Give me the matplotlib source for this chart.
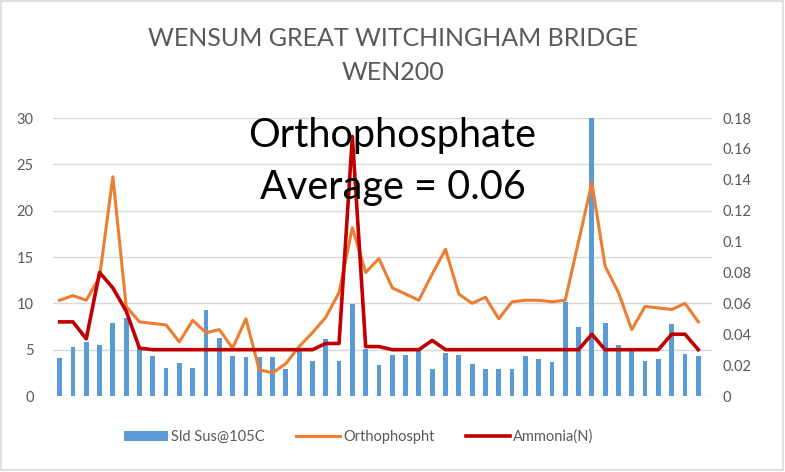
import numpy as np
import matplotlib
matplotlib.use("Agg")
import matplotlib.pyplot as plt
from matplotlib.patches import Rectangle

plt.rcParams['font.family'] = ['Lato', 'DejaVu Sans']

# Sample values (49 samples)
suspended_solids = [
    4.1, 5.3, 5.8, 5.5, 7.9, 8.4, 5.3, 4.3, 3.0, 3.6,
    3.0, 9.3, 6.3, 4.3, 4.2, 4.2, 4.2, 2.9, 4.9, 3.8,
    6.1, 3.8, 9.9, 5.1, 3.3, 4.4, 4.4, 5.2, 2.9, 4.6,
    4.4, 3.5, 2.9, 2.9, 2.9, 4.3, 4.0, 3.7, 10.1, 7.5,
    30.0, 7.9, 5.5, 4.9, 3.8, 4.0, 7.8, 4.5, 4.3
]

orthophosphate = [
    0.062, 0.065, 0.062, 0.077, 0.142, 0.058, 0.048, 0.047, 0.046, 0.035,
    0.049, 0.041, 0.043, 0.031, 0.050, 0.017, 0.015, 0.021, 0.032, 0.041,
    0.051, 0.067, 0.109, 0.080, 0.089, 0.070, 0.066, 0.062, 0.079, 0.095,
    0.066, 0.060, 0.064, 0.050, 0.061, 0.062, 0.062, 0.061, 0.062, 0.100,
    0.138, 0.084, 0.067, 0.043, 0.058, 0.057, 0.056, 0.060, 0.048
]

ammonia = [
    0.048, 0.048, 0.037, 0.080, 0.070, 0.055, 0.031, 0.030, 0.030, 0.030,
    0.030, 0.030, 0.030, 0.030, 0.030, 0.030, 0.030, 0.030, 0.030, 0.030,
    0.034, 0.034, 0.168, 0.032, 0.032, 0.030, 0.030, 0.030, 0.036, 0.030,
    0.030, 0.030, 0.030, 0.030, 0.030, 0.030, 0.030, 0.030, 0.030, 0.030,
    0.040, 0.030, 0.030, 0.030, 0.030, 0.030, 0.040, 0.040, 0.030
]

left_ticks = [0, 5, 10, 15, 20, 25, 30]
right_ticks = [0, 0.02, 0.04, 0.06, 0.08, 0.1, 0.12, 0.14, 0.16, 0.18]

x = np.arange(len(suspended_solids))
grey = "#595959"

fig = plt.figure(figsize=(7.85, 4.72), dpi=100)
ax = fig.add_axes([0.0675, 0.161, 0.839, 0.589])
ax2 = ax.twinx()

# Bars on the left axis
bars = ax.bar(x, suspended_solids, width=0.36, color="#5B9BD5", zorder=2,
              label="Sld Sus@105C")

# Lines on the right axis
l1, = ax2.plot(x, orthophosphate, color="#ED7D31", lw=2.2, label="Orthophospht",
               solid_joinstyle="round")
l2, = ax2.plot(x, ammonia, color="#C00000", lw=2.6, label="Ammonia(N)",
               solid_joinstyle="round")

ax.set_xlim(-0.5, 49.0)
ax.set_ylim(0, 30)
ax2.set_ylim(0, 0.18)
ax.set_yticks(left_ticks)
ax2.set_yticks(right_ticks)
ax2.set_yticklabels(["0" if t == 0 else f"{t:g}" for t in right_ticks])
ax.set_xticks([])

ax.grid(axis="y", color="#D9D9D9", lw=1, zorder=0)
ax.set_axisbelow(True)
for a in (ax, ax2):
    for s in a.spines.values():
        s.set_visible(False)
    a.tick_params(length=0, labelsize=10.5, labelcolor=grey)
ax.tick_params(axis="y", pad=14)
ax2.tick_params(axis="y", pad=8)

# Title and average annotation
fig.text(0.5, 0.883, "WENSUM GREAT WITCHINGHAM BRIDGE\nWEN200", ha="center",
         va="center", fontsize=18, color=grey, linespacing=1.6)
fig.text(0.5, 0.658, "Orthophosphate\nAverage = 0.06", ha="center", va="center",
         fontsize=28.5, color="black", linespacing=1.5)

# Legend
fig.legend(handles=[bars, l1, l2], loc="center", bbox_to_anchor=(0.457, 0.075),
           ncol=3, frameon=False, fontsize=10.5, labelcolor=grey,
           handlelength=3.0, columnspacing=2.2, handletextpad=0.2)

# Light chart border
fig.add_artist(Rectangle((0.001, 0.004), 0.997, 0.994, transform=fig.transFigure,
                         fill=False, edgecolor="#D9D9D9", lw=1.2))

fig.savefig("out.png", dpi=100)
